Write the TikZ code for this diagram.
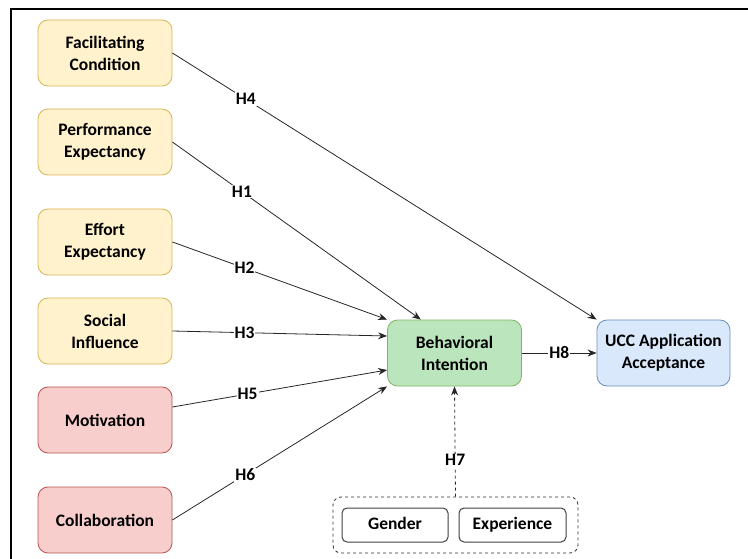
\documentclass[tikz,border=0pt]{standalone}
\usepackage{fontspec}
\setmainfont{Carlito}
\usetikzlibrary{calc,arrows.meta}
\definecolor{yfill}{HTML}{FFF2CC}\definecolor{ydraw}{HTML}{D6B656}
\definecolor{rfill}{HTML}{F8CECC}\definecolor{rdraw}{HTML}{B85450}
\definecolor{gfill}{RGB}{187,229,189}\definecolor{gdraw}{HTML}{82B366}
\definecolor{bfill}{HTML}{DAE8FC}\definecolor{bdraw}{HTML}{6C8EBF}
\begin{document}
\begin{tikzpicture}[x=1pt,y=-1pt,
  font=\fontsize{17.5}{22}\selectfont\bfseries,
  box/.style={rounded corners=10pt,minimum width=134pt,minimum height=66pt,align=center,inner sep=0pt,line width=0.8pt},
  ybox/.style={box,fill=yfill,draw=ydraw},
  rbox/.style={box,fill=rfill,draw=rdraw},
  wbox/.style={rounded corners=5pt,draw=black!75,fill=white,line width=1pt,minimum height=34pt,inner sep=0pt,text height=12pt,text depth=4pt},
  conn/.style={-{Stealth[length=9pt,width=7pt]},line width=0.8pt,black!85},
  lab/.style={fill=white,inner sep=1pt,text=black}]
\useasboundingbox (0,0) rectangle (748,559);
\draw[line width=2pt] (11,560) -- (11,9) -- (749,9);
\node[ybox] (fc) at (105,53) {Facilitating\\Condition};
\node[ybox] (pe) at (105,142) {Performance\\Expectancy};
\node[ybox] (ee) at (105,242) {Effort\\Expectancy};
\node[ybox] (si) at (105,331) {Social\\Influence};
\node[rbox] (mo) at (105,420) {Motivation};
\node[rbox] (co) at (105,520) {Collaboration};
\node[box,fill=gfill,draw=gdraw] (bi) at (454.5,353) {Behavioral\\Intention};
\node[box,fill=bfill,draw=bdraw,minimum width=133pt] (ucc) at (663.5,353) {UCC Application\\Acceptance};
\node[wbox,minimum width=106pt] (ge) at (395,525) {Gender};
\node[wbox,minimum width=107pt] (ex) at (512.5,525) {Experience};
\node[draw=black!80,dashed,rounded corners=8pt,line width=0.8pt,minimum width=245pt,minimum height=56pt,inner sep=0pt] (grp) at (455.5,525) {};
\draw[conn] (fc.east) -- node[lab,pos=0.173]{H4} (ucc.north west);
\draw[conn] (pe.east) -- node[lab,pos=0.28]{H1} ($(bi.north west)!0.25!(bi.north east)$);
\draw[conn] (ee.east) -- node[lab,pos=0.336]{H2} (bi.north west);
\draw[conn] (si.east) -- node[lab,pos=0.336]{H3} ($(bi.west)+(0,-17)$);
\draw[conn] ($(mo.east)+(0,-13)$) -- node[lab,pos=0.35]{H5} ($(bi.west)+(0,17)$);
\draw[conn] (co.east) -- node[lab,pos=0.34]{H6} (bi.south west);
\draw[conn,dashed] (grp.north) -- node[lab,pos=0.33]{H7} (bi.south);
\draw[conn] (bi.east) -- node[lab,pos=0.5]{H8} (ucc.west);
\end{tikzpicture}
\end{document}
